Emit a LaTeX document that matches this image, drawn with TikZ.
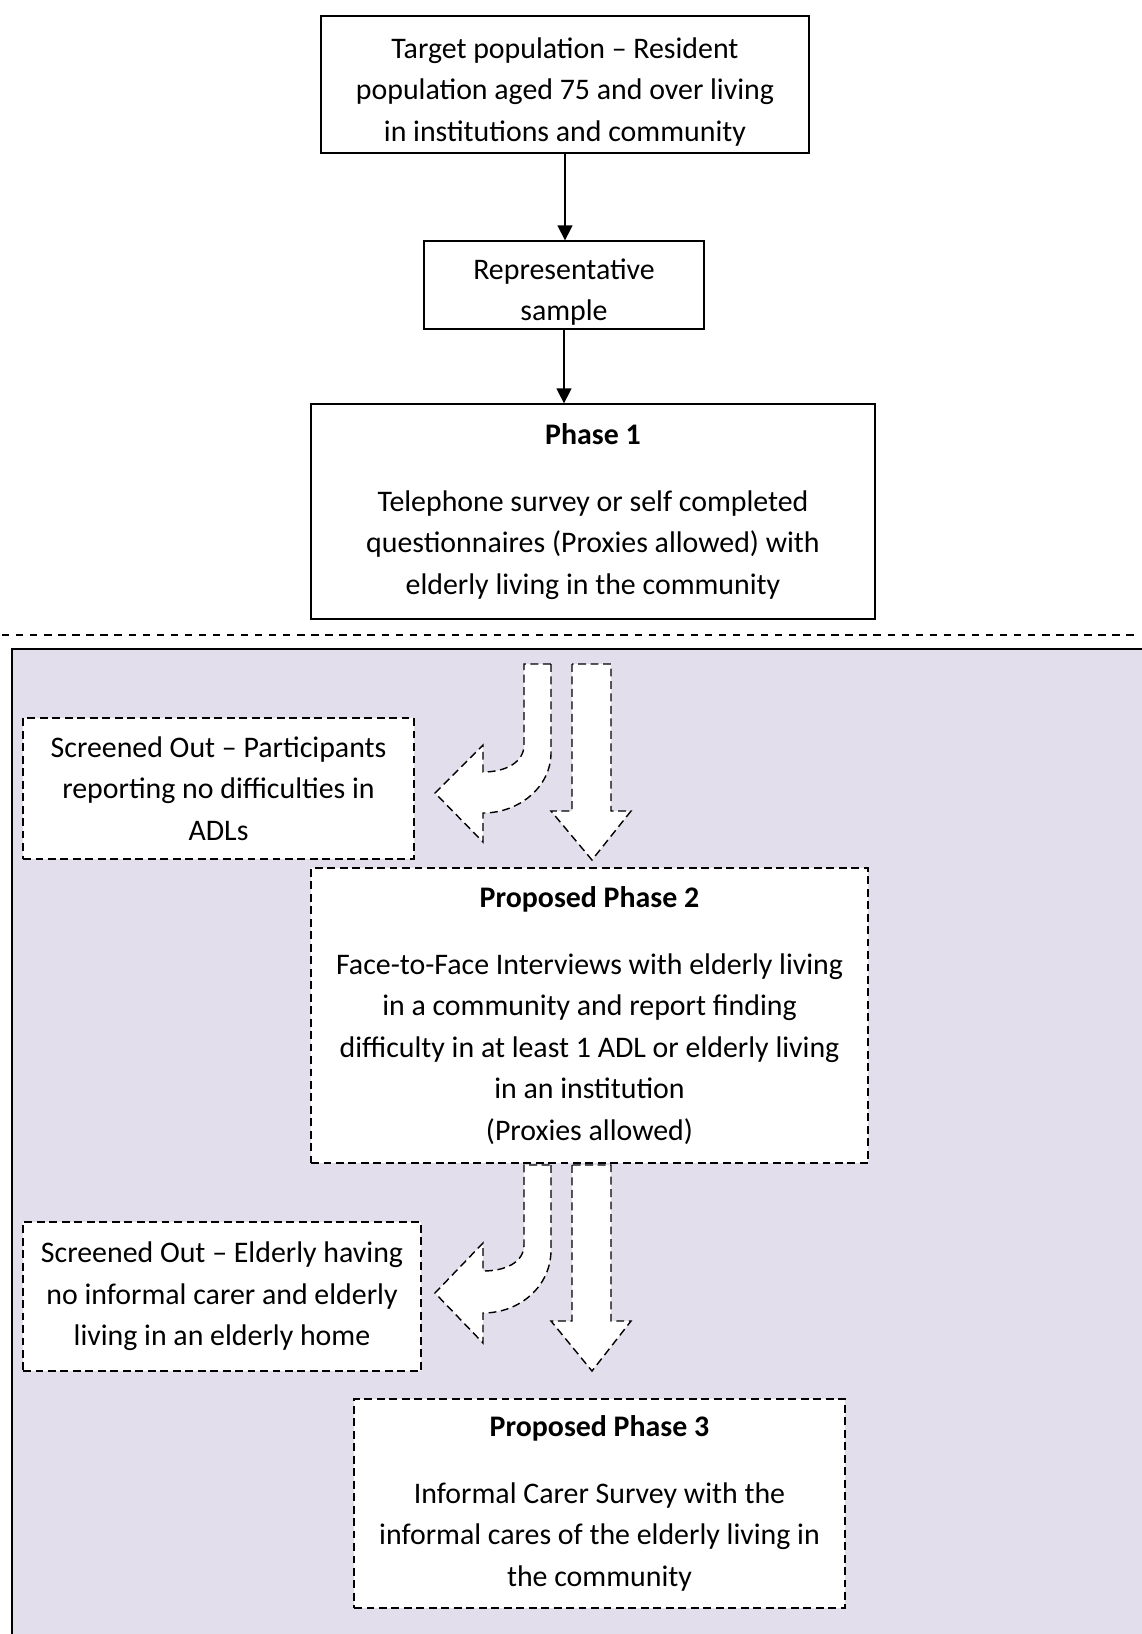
\documentclass[tikz,border=0pt]{standalone}
\usepackage{fontspec}
\setmainfont{Carlito}
\usepackage{xcolor}
\usetikzlibrary{arrows.meta}

\definecolor{lavender}{RGB}{226,222,235}

\tikzset{
  solidbox/.style={shape=rectangle,draw=black,line width=0.75pt,fill=white,align=center,inner sep=0pt,font=\fontsize{17}{23.65}\selectfont},
  dashbox/.style={solidbox,line width=0.8pt,dash pattern=on 4.5pt off 2.6pt},
  blockarrow/.style={draw=black,fill=white,line width=0.8pt,dash pattern=on 4.5pt off 2.6pt,line join=miter},
  flow/.style={line width=0.75pt,-{Triangle[width=0.3cm,length=0.3cm]}}
}

\begin{document}
\begin{tikzpicture}[x=0.02cm,y=-0.02cm]
                    \useasboundingbox (0,0) rectangle (1142,1634);
                    \fill[lavender] (12,649) rectangle (1150,1645);
                    \draw[line width=1pt] (1150,649) -- (12,649) -- (12,1645);
                    \draw[line width=1.1pt,dash pattern=on 4.2pt off 3.8pt] (2,635) -- (1140,635);

                    \node[solidbox,minimum width=9.76cm,minimum height=2.74cm] (target) at (565,84.5) {\rule{0pt}{0.7cm}Target population -- Resident\\population aged 75 and over living\\in institutions and community};
                    \node[solidbox,minimum width=5.6cm,minimum height=1.76cm] (sample) at (564,285) {\rule{0pt}{0.7cm}Representative\\sample};
                    \node[solidbox,minimum width=11.28cm,minimum height=4.3cm] (phaseone) at (593,511.5) {\textbf{Phase 1}\\[0.5cm]Telephone survey or self completed\\questionnaires (Proxies allowed) with\\elderly living in the community};
                    \node[dashbox,minimum width=7.82cm,minimum height=2.82cm] (screenone) at (218.5,788.5) {Screened Out -- Participants\\reporting no difficulties in\\ADLs};
                    \node[dashbox,minimum width=11.14cm,minimum height=5.9cm] (phasetwo) at (589.5,1015.5) {\textbf{Proposed Phase 2}\\[0.5cm]Face-to-Face Interviews with elderly living\\in a community and report finding\\difficulty in at least 1 ADL or elderly living\\in an institution\\(Proxies allowed)};
                    \node[dashbox,minimum width=7.96cm,minimum height=2.98cm] (screentwo) at (222,1296.5) {Screened Out -- Elderly having\\no informal carer and elderly\\living in an elderly home};
                    \node[dashbox,minimum width=9.82cm,minimum height=4.18cm] (phasethree) at (599.5,1503.5) {\textbf{Proposed Phase 3}\\[0.5cm]Informal Carer Survey with the\\informal cares of the elderly living in\\the community};

                    \draw[flow] (target.south) -- (target.south |- sample.north);
                    \draw[flow] (sample.south) -- (sample.south |- phaseone.north);

                    % screening arrows below phase 1
                    \draw[blockarrow] (551,664) -- (551,753) .. controls (551,786) and (520,813) .. (483,813) -- (483,842) -- (435,793) -- (483,745) -- (483,772) .. controls (506,772) and (524,762) .. (524,745) -- (524,664) -- cycle;
                    \draw[blockarrow] (572,664) -- (572,811) -- (551,811) -- (592,860) -- (631,811) -- (611,811) -- (611,664) -- cycle;

                    % screening arrows below phase 2
                    \draw[blockarrow] (551,1165) -- (551,1250) .. controls (551,1286) and (520,1313) .. (483,1313) -- (483,1343) -- (435,1293) -- (483,1243) -- (483,1271) .. controls (506,1271) and (524,1262) .. (524,1245) -- (524,1165) -- cycle;
                    \draw[blockarrow] (572,1165) -- (572,1321) -- (551,1321) -- (592,1371) -- (631,1321) -- (611,1321) -- (611,1165) -- cycle;
                \end{tikzpicture}
\end{document}
